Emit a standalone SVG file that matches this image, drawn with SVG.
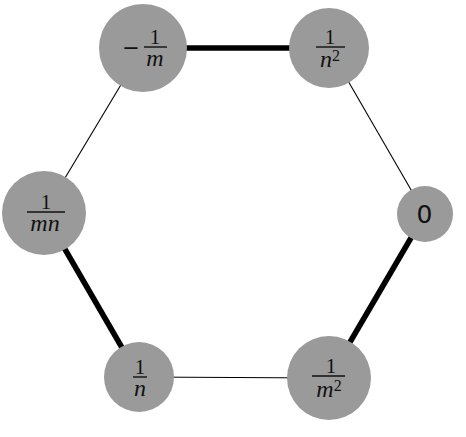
<svg xmlns="http://www.w3.org/2000/svg" width="466" height="437" viewBox="0 0 466 437">
<style>
.node{fill:#9a9a9a}
.thick{stroke:#000;stroke-width:5.5;stroke-linecap:butt}
.thin{stroke:#000;stroke-width:1.1}
.bar{stroke:#111;stroke-width:1.4}
.num{font-family:"Liberation Serif",serif;font-size:21px;fill:#111;text-anchor:middle}
.minus{font-family:"DejaVu Sans",sans-serif;font-size:21px;fill:#111;text-anchor:middle}
.var{font-family:"Liberation Serif",serif;font-style:italic;font-size:24px;fill:#111;text-anchor:middle}
.sup{font-style:normal;font-size:16px}
.zero{font-family:"DejaVu Sans",sans-serif;font-size:25px;fill:#111;text-anchor:middle}
</style>
<rect width="466" height="437" fill="#fff"/>
<g id="connectors">
<line class="thick" x1="143" y1="48" x2="329" y2="48"/>
<line class="thin" x1="329" y1="48" x2="425" y2="214"/>
<line class="thick" x1="425" y1="214" x2="329" y2="378"/>
<line class="thin" x1="329" y1="378" x2="139" y2="377"/>
<line class="thick" x1="139" y1="377" x2="44" y2="213"/>
<line class="thin" x1="44" y1="213" x2="143" y2="48"/>
</g>
<g id="n_neg1m">
<circle class="node" cx="143" cy="48" r="44"/>
<text class="minus" x="131" y="55">−</text>
<line class="bar" x1="144" y1="47" x2="167" y2="47"/>
<text class="num" x="155" y="44">1</text>
<text class="var" x="155" y="66">m</text>
</g>
<g id="n_1n2">
<circle class="node" cx="329" cy="48" r="40"/>
<line class="bar" x1="316" y1="47" x2="345" y2="47"/>
<text class="num" x="330" y="44">1</text>
<text class="var" x="330" y="67">n<tspan class="sup" dy="-6">2</tspan></text>
</g>
<g id="n_1mn">
<circle class="node" cx="44" cy="213" r="42"/>
<line class="bar" x1="27" y1="212" x2="65" y2="212"/>
<text class="num" x="46" y="209">1</text>
<text class="var" x="45" y="231">mn</text>
</g>
<g id="n_0">
<circle class="node" cx="425" cy="214" r="28"/>
<text class="zero" x="424.5" y="223">0</text>
</g>
<g id="n_1n">
<circle class="node" cx="139" cy="377" r="35"/>
<line class="bar" x1="133" y1="377" x2="147" y2="377"/>
<text class="num" x="140" y="374">1</text>
<text class="var" x="140" y="396">n</text>
</g>
<g id="n_1m2">
<circle class="node" cx="329" cy="378" r="42"/>
<line class="bar" x1="312" y1="376" x2="345" y2="376"/>
<text class="num" x="331" y="373">1</text>
<text class="var" x="329" y="397">m<tspan class="sup" dy="-6">2</tspan></text>
</g>
</svg>
